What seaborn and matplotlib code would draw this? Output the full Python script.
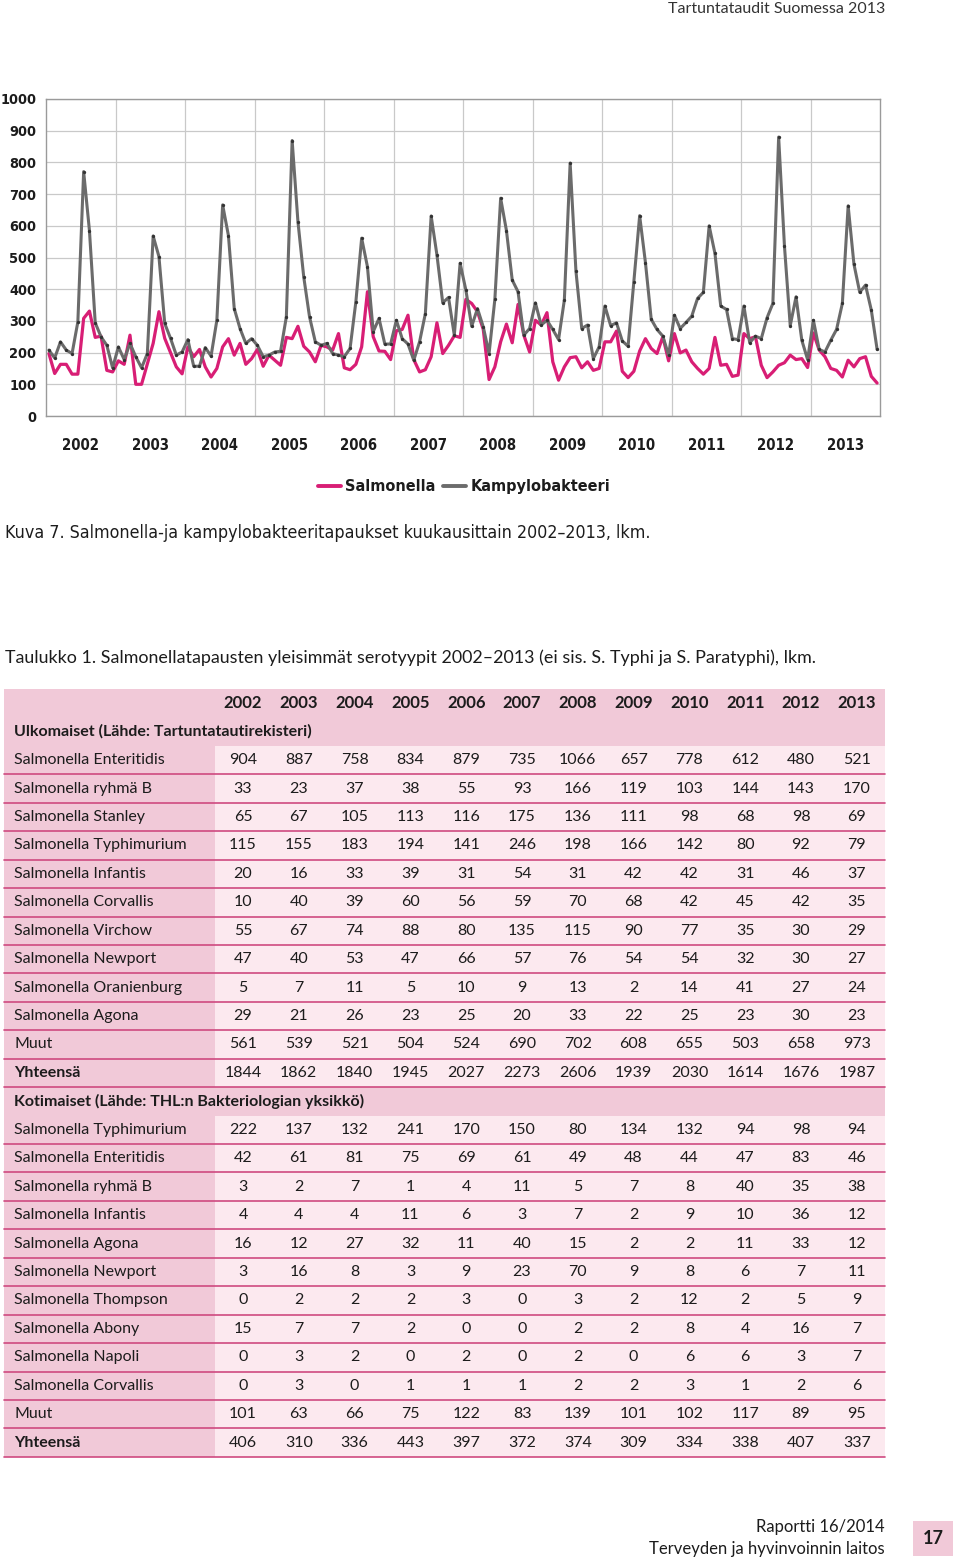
"""Kuva 7 ja Taulukko 1: Salmonella- ja kampylobakteeritapaukset 2002-2013."""

import os

import matplotlib
import matplotlib.pyplot as plt
import numpy as np
import pandas as pd
import seaborn as sns
from matplotlib import font_manager
from matplotlib.lines import Line2D
from matplotlib.patches import Rectangle

matplotlib.use("Agg")

# ============================================================
# DATA
# ============================================================

vuodet = ["2002", "2003", "2004", "2005", "2006", "2007",
          "2008", "2009", "2010", "2011", "2012", "2013"]

# Kuukausittaiset tapaukset (luettu kuvasta)
salmonella = [
    197, 134, 163, 163, 132, 132, 308, 331, 248, 252, 144, 139,
    174, 163, 255, 100, 100, 165, 229, 329, 245, 200, 155, 133,
    218, 187, 210, 155, 123, 150, 218, 244, 192, 229, 163, 181,
    210, 157, 192, 176, 160, 248, 244, 283, 220, 202, 171, 223,
    218, 208, 260, 152, 146, 163, 218, 392, 250, 205, 204, 178,
    269, 273, 318, 178, 139, 146, 187, 294, 197, 223, 253, 248,
    368, 355, 329, 273, 115, 155, 234, 290, 231, 352, 255, 202,
    302, 287, 326, 171, 113, 155, 184, 187, 152, 171, 144, 150,
    234, 234, 268, 141, 121, 141, 205, 244, 213, 197, 250, 174,
    260, 199, 208, 171, 150, 132, 150, 248, 160, 163, 125, 129,
    260, 244, 250, 160, 121, 139, 160, 168, 192, 178, 181, 153,
    262, 208, 187, 150, 144, 123, 176, 155, 181, 187, 125, 104,
]
kampylobakteeri = [
    208, 183, 234, 208, 197, 297, 771, 585, 294, 250, 223, 152,
    218, 178, 229, 187, 152, 197, 568, 503, 292, 245, 192, 202,
    241, 157, 157, 216, 189, 302, 666, 569, 339, 276, 229, 244,
    223, 187, 192, 202, 204, 313, 869, 613, 439, 313, 234, 223,
    229, 197, 192, 187, 213, 360, 561, 471, 266, 308, 227, 227,
    302, 244, 227, 176, 234, 323, 631, 508, 357, 374, 255, 482,
    397, 283, 339, 281, 197, 368, 687, 585, 429, 392, 255, 276,
    357, 287, 302, 273, 241, 366, 798, 457, 276, 287, 181, 218,
    347, 285, 294, 237, 220, 424, 632, 484, 305, 273, 252, 192,
    318, 276, 295, 315, 371, 390, 600, 513, 347, 336, 244, 241,
    347, 231, 252, 244, 310, 355, 880, 537, 285, 376, 239, 178,
    302, 210, 202, 239, 273, 355, 663, 479, 390, 413, 334, 210,
]

# Taulukko 1
ulkomaiset_otsikko = "Ulkomaiset (Lähde: Tartuntatautirekisteri)"
ulkomaiset_nimet = [
    "Salmonella Enteritidis", "Salmonella ryhmä B", "Salmonella Stanley",
    "Salmonella Typhimurium", "Salmonella Infantis", "Salmonella Corvallis",
    "Salmonella Virchow", "Salmonella Newport", "Salmonella Oranienburg",
    "Salmonella Agona", "Muut", "Yhteensä",
]
ulkomaiset_arvot = [
    [904, 887, 758, 834, 879, 735, 1066, 657, 778, 612, 480, 521],
    [33, 23, 37, 38, 55, 93, 166, 119, 103, 144, 143, 170],
    [65, 67, 105, 113, 116, 175, 136, 111, 98, 68, 98, 69],
    [115, 155, 183, 194, 141, 246, 198, 166, 142, 80, 92, 79],
    [20, 16, 33, 39, 31, 54, 31, 42, 42, 31, 46, 37],
    [10, 40, 39, 60, 56, 59, 70, 68, 42, 45, 42, 35],
    [55, 67, 74, 88, 80, 135, 115, 90, 77, 35, 30, 29],
    [47, 40, 53, 47, 66, 57, 76, 54, 54, 32, 30, 27],
    [5, 7, 11, 5, 10, 9, 13, 2, 14, 41, 27, 24],
    [29, 21, 26, 23, 25, 20, 33, 22, 25, 23, 30, 23],
    [561, 539, 521, 504, 524, 690, 702, 608, 655, 503, 658, 973],
    [1844, 1862, 1840, 1945, 2027, 2273, 2606, 1939, 2030, 1614, 1676, 1987],
]
kotimaiset_otsikko = "Kotimaiset (Lähde: THL:n Bakteriologian yksikkö)"
kotimaiset_nimet = [
    "Salmonella Typhimurium", "Salmonella Enteritidis", "Salmonella ryhmä B",
    "Salmonella Infantis", "Salmonella Agona", "Salmonella Newport",
    "Salmonella Thompson", "Salmonella Abony", "Salmonella Napoli",
    "Salmonella Corvallis", "Muut", "Yhteensä",
]
kotimaiset_arvot = [
    [222, 137, 132, 241, 170, 150, 80, 134, 132, 94, 98, 94],
    [42, 61, 81, 75, 69, 61, 49, 48, 44, 47, 83, 46],
    [3, 2, 7, 1, 4, 11, 5, 7, 8, 40, 35, 38],
    [4, 4, 4, 11, 6, 3, 7, 2, 9, 10, 36, 12],
    [16, 12, 27, 32, 11, 40, 15, 2, 2, 11, 33, 12],
    [3, 16, 8, 3, 9, 23, 70, 9, 8, 6, 7, 11],
    [0, 2, 2, 2, 3, 0, 3, 2, 12, 2, 5, 9],
    [15, 7, 7, 2, 0, 0, 2, 2, 8, 4, 16, 7],
    [0, 3, 2, 0, 2, 0, 2, 0, 6, 6, 3, 7],
    [0, 3, 0, 1, 1, 1, 2, 2, 3, 1, 2, 6],
    [101, 63, 66, 75, 122, 83, 139, 101, 102, 117, 89, 95],
    [406, 310, 336, 443, 397, 372, 374, 309, 334, 338, 407, 337],
]

# ============================================================
# ULKOASU
# ============================================================

W, H = 960, 1561
PINKKI = "#d81e75"
HARMAA = "#6b6b6b"
OTSAKE_TAUSTA = "#f1c9d8"
SOLU_TAUSTA = "#fce9ef"
VIIVA = "#cf4a80"
TEKSTI = "#1c1c1c"
TAULU = ["Lato", "DejaVu Sans"]


def kapea_fontti():
    """Etsi kapea kirjaintyyppi kuvan teksteille (kapein saatavilla)."""
    tiedostot = [os.path.basename(f.fname) for f in
                 font_manager.fontManager.ttflist]
    nimet = {f.name for f in font_manager.fontManager.ttflist}
    if "Liberation Sans Narrow" in nimet:
        return {"family": ["Liberation Sans Narrow", "DejaVu Sans"],
                "stretch": "normal", "koko": 1.0}
    if any("SansCondensed" in t for t in tiedostot):
        return {"family": ["DejaVu Sans"], "stretch": "condensed",
                "koko": 0.92}
    return {"family": ["Roboto", "DejaVu Sans"], "stretch": "normal",
            "koko": 0.82}


KAPEA = kapea_fontti()

sns.set_theme(style="white")
plt.rcParams["font.family"] = TAULU

fig = plt.figure(figsize=(W / 100, H / 100), dpi=100)
fig.patch.set_facecolor("white")


def px_axes(left, top, right, bottom):
    """Axes pikselikoordinaateista."""
    return fig.add_axes([left / W, 1 - bottom / H, (right - left) / W,
                         (bottom - top) / H])


def kapea(teksti_olio, koko, paino="bold"):
    teksti_olio.set_fontfamily(KAPEA["family"])
    teksti_olio.set_fontstretch(KAPEA["stretch"])
    teksti_olio.set_fontweight(paino)
    teksti_olio.set_fontsize(koko * KAPEA["koko"])


# ---- viivakaavio -------------------------------------------------------
df = pd.DataFrame({
    "kk": np.arange(len(salmonella)),
    "Salmonella": salmonella,
    "Kampylobakteeri": kampylobakteeri,
}).melt(id_vars="kk", var_name="sarja", value_name="tapaukset")

ax = px_axes(46, 99, 880, 416)
sns.lineplot(data=df[df.sarja == "Salmonella"], x="kk", y="tapaukset",
             color=PINKKI, linewidth=2.3, ax=ax, legend=False)
sns.lineplot(data=df[df.sarja == "Kampylobakteeri"], x="kk", y="tapaukset",
             color=HARMAA, linewidth=2.2, marker="o", markersize=2.4,
             markeredgewidth=0, markerfacecolor="#333333", ax=ax,
             legend=False)

n_kk = len(salmonella)
ax.set_xlim(-0.5, n_kk - 0.5)
ax.set_ylim(0, 1000)
ax.set_yticks(range(0, 1001, 100))
ax.set_xticks(np.arange(len(vuodet)) * 12 + 5.5)
ax.set_xticklabels(vuodet)
ax.set_xticks(np.arange(1, len(vuodet)) * 12 - 0.5, minor=True)
ax.grid(True, which="minor", axis="x", color="#c9c9c9", linewidth=0.9)
ax.grid(True, which="major", axis="y", color="#c9c9c9", linewidth=0.9)
ax.grid(False, which="major", axis="x")
ax.set_xlabel("")
ax.set_ylabel("")
ax.tick_params(axis="both", which="both", length=0)
ax.tick_params(axis="x", pad=16)
ax.tick_params(axis="y", pad=7)
for lab in ax.get_xticklabels():
    kapea(lab, 11.6)
    lab.set_color(TEKSTI)
for lab in ax.get_yticklabels():
    kapea(lab, 11.3)
    lab.set_color(TEKSTI)
for s in ax.spines.values():
    s.set_color("#9a9a9a")
    s.set_linewidth(1.0)

kahvat = [Line2D([], [], color=PINKKI, linewidth=2.8),
          Line2D([], [], color=HARMAA, linewidth=2.8)]
leg = fig.legend(kahvat, ["Salmonella", "Kampylobakteeri"], loc="center",
                 bbox_to_anchor=(464 / W, 1 - 487 / H), ncol=2,
                 frameon=False, handlelength=1.5, handletextpad=0.3,
                 columnspacing=0.5)
for t in leg.get_texts():
    kapea(t, 12.6)
    t.set_color(TEKSTI)

# ---- sivun tekstit ja taulukko ----------------------------------------
page = fig.add_axes([0, 0, 1, 1])
page.set_xlim(0, W)
page.set_ylim(H, 0)
page.axis("off")
page.set_zorder(-1)

page.text(885, 9, "Tartuntataudit Suomessa 2013", ha="right", va="center",
          fontsize=11.5, color="#333333", family=TAULU)
kuva7 = page.text(5, 533, "Kuva 7. Salmonella-ja kampylobakteeritapaukset "
                  "kuukausittain 2002–2013, lkm.", ha="left", va="center",
                  color=TEKSTI)
kapea(kuva7, 13.9, paino="normal")
page.text(5, 658, "Taulukko 1. Salmonellatapausten yleisimmät serotyypit "
          "2002–2013 (ei sis. S. Typhi ja S. Paratyphi), lkm.", ha="left",
          va="center", fontsize=12.85, color=TEKSTI, family=TAULU)

TAULU_VASEN, TAULU_OIKEA, NIMI_OIKEA = 4, 885, 215
RIVI_H = 28.44
YLA = 689
sarake_x = 243 + np.arange(len(vuodet)) * 55.8


def rivi_keski(k):
    return YLA + (k + 0.5) * RIVI_H


def otsikkorivi(k, teksti=None, vuosirivi=False):
    y0 = YLA + k * RIVI_H
    page.add_patch(Rectangle((TAULU_VASEN, y0), TAULU_OIKEA - TAULU_VASEN,
                             RIVI_H, facecolor=OTSAKE_TAUSTA, lw=0))
    if vuosirivi:
        for x, v in zip(sarake_x, vuodet):
            page.text(x, rivi_keski(k), v, ha="center", va="center",
                      fontsize=12, fontweight="bold", color=TEKSTI,
                      family=TAULU)
    else:
        page.text(14, rivi_keski(k), teksti, ha="left", va="center",
                  fontsize=11.5, fontweight="bold", color=TEKSTI,
                  family=TAULU)


def datarivi(k, nimi, arvot):
    y0 = YLA + k * RIVI_H
    page.add_patch(Rectangle((TAULU_VASEN, y0), NIMI_OIKEA - TAULU_VASEN,
                             RIVI_H, facecolor=OTSAKE_TAUSTA, lw=0))
    page.add_patch(Rectangle((NIMI_OIKEA, y0), TAULU_OIKEA - NIMI_OIKEA,
                             RIVI_H, facecolor=SOLU_TAUSTA, lw=0))
    page.plot([TAULU_VASEN, TAULU_OIKEA], [y0 + RIVI_H, y0 + RIVI_H],
              color=VIIVA, linewidth=1.2)
    paino = "bold" if nimi == "Yhteensä" else "normal"
    page.text(14, rivi_keski(k), nimi, ha="left", va="center",
              fontsize=11.5, fontweight=paino, color=TEKSTI, family=TAULU)
    for x, a in zip(sarake_x, arvot):
        page.text(x, rivi_keski(k), str(a), ha="center", va="center",
                  fontsize=11.5, color=TEKSTI, family=TAULU)


k = 0
otsikkorivi(k, vuosirivi=True)
k += 1
otsikkorivi(k, ulkomaiset_otsikko)
k += 1
for nimi, arvot in zip(ulkomaiset_nimet, ulkomaiset_arvot):
    datarivi(k, nimi, arvot)
    k += 1
otsikkorivi(k, kotimaiset_otsikko)
k += 1
for nimi, arvot in zip(kotimaiset_nimet, kotimaiset_arvot):
    datarivi(k, nimi, arvot)
    k += 1

# ---- alatunniste -------------------------------------------------------
page.text(885, 1527, "Raportti 16/2014", ha="right", va="center",
          fontsize=12, color=TEKSTI, family=TAULU)
page.text(885, 1549, "Terveyden ja hyvinvoinnin laitos", ha="right",
          va="center", fontsize=12, color=TEKSTI, family=TAULU)
page.add_patch(Rectangle((913, 1521), 40, 35, facecolor=OTSAKE_TAUSTA, lw=0))
page.text(933, 1539, "17", ha="center", va="center", fontsize=13,
          fontweight="bold", color=TEKSTI, family=TAULU)

fig.savefig("out.png", dpi=100)
